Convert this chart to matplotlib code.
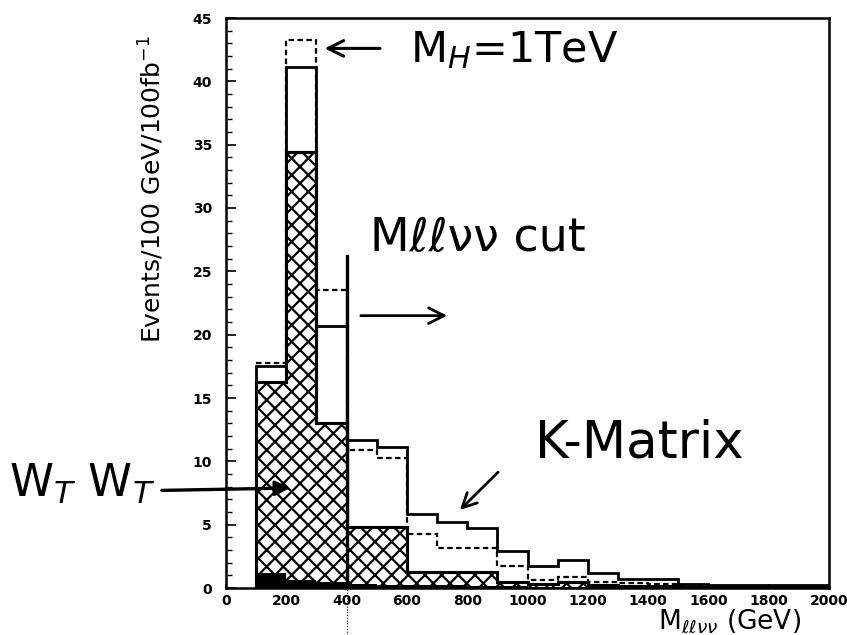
import matplotlib
matplotlib.use("Agg")
import matplotlib.pyplot as plt
import numpy as np

# ---- data ----
bin_edges = list(range(100, 2001, 100))
kmatrix = [17.5, 41.1, 20.7, 11.7, 11.1, 5.85, 5.2, 4.7, 2.95, 1.7,
           2.2, 1.2, 0.7, 0.7, 0.35, 0.25, 0.25, 0.2, 0.2]
higgs_1tev = [17.8, 43.3, 23.5, 10.9, 10.3, 4.26, 3.13, 3.13, 1.74, 0.65,
              0.9, 0.5, 0.4, 0.3, 0.2, 0.15, 0.15, 0.1, 0.1]
wtwt = [16.3, 34.4, 13.0, 4.85, 4.85, 1.3, 1.3, 1.3, 0.5, 0.3,
        0.5, 0.2, 0.15, 0.15, 0.1, 0.1, 0.1, 0.1, 0.1]
other_bkg = [1.2, 0.6, 0.5, 0.3, 0.25, 0.2, 0.2, 0.15, 0.15, 0.1,
             0.1, 0.1, 0.1, 0.1, 0.1, 0.1, 0.1, 0.1, 0.1]
cut_value = 400
cut_height = 26.2
x_ticks = list(range(0, 2001, 200))
y_ticks = list(range(0, 46, 5))

plt.rcParams['hatch.linewidth'] = 1.6

fig = plt.figure(figsize=(8.47, 6.35), dpi=100)
ax = fig.add_axes([226/847, (635-588)/635, 603/847, (588-18)/635])

# hatched WT WT
ax.stairs(wtwt, bin_edges, fill=True, facecolor='white', edgecolor='black',
          hatch='xx', linewidth=2.2, zorder=2)
ax.stairs(wtwt, bin_edges, color='black', linewidth=2.2, zorder=3)
# small filled black background
ax.stairs(other_bkg, bin_edges, fill=True, color='black', zorder=3)
# K-matrix solid
ax.stairs(kmatrix, bin_edges, color='black', linewidth=2.0, zorder=4, baseline=None)
ax.plot([bin_edges[0]] * 2, [0, kmatrix[0]], color='black', lw=2.0, zorder=4)
ax.plot([bin_edges[-1]] * 2, [0, kmatrix[-1]], color='black', lw=2.0, zorder=4)
# Higgs 1 TeV dashed
ax.stairs(higgs_1tev, bin_edges, color='black', linewidth=1.6,
          linestyle=(0, (2.5, 1.5)), zorder=5, baseline=None)

# cut line
ax.plot([cut_value, cut_value], [0, cut_height], color='black', lw=2.4, zorder=6)
ax.plot([cut_value, cut_value], [-3.7, 0], color='black', lw=0.8,
        linestyle=(0, (1, 1.5)), zorder=6, clip_on=False)

ax.set_xlim(0, 2000)
ax.set_ylim(0, 45)
ax.set_xticks(x_ticks)
ax.set_yticks(y_ticks)
ax.set_yticks(np.arange(0, 46, 1), minor=True)
ax.tick_params(axis='both', which='major', direction='in', length=7, width=1.2,
               labelsize=10)
ax.tick_params(axis='y', which='minor', direction='in', length=4, width=1.0)
ax.tick_params(axis='x', which='major', length=3)
for lab in ax.get_xticklabels() + ax.get_yticklabels():
    lab.set_fontweight('bold')
ax.tick_params(axis='y', pad=10)
ax.tick_params(axis='x', pad=4)
for s in ax.spines.values():
    s.set_linewidth(1.8)

ax.set_ylabel("Events/100 GeV/100fb$^{-1}$", fontsize=18)
ax.yaxis.set_label_coords(-0.10, 0.70)
fig.text(730/847, 1 - 621/635, r"M$_{\ell\ell\nu\nu}$ (GeV)", fontsize=19,
         ha='center', va='center')

# handwritten-style annotations
hw = dict(color='black', family='DejaVu Sans')
ax.text(610, 42.5, "M$_H$=1TeV", ha='left', va='center', fontsize=31, **hw)
ax.annotate("", xy=(318, 42.6), xytext=(520, 42.6),
            arrowprops=dict(arrowstyle='->', lw=2.2, color='black',
                            mutation_scale=28))
ax.text(478, 27.6, "Mℓℓνν cut", ha='left', va='center', fontsize=33, **hw)
ax.annotate("", xy=(743, 21.5), xytext=(438, 21.5),
            arrowprops=dict(arrowstyle='->', lw=2.0, color='black',
                            mutation_scale=28))
ax.text(1025, 11.4, "K-Matrix", ha='left', va='center', fontsize=37, **hw)
ax.annotate("", xy=(769, 6.0), xytext=(909, 9.3),
            arrowprops=dict(arrowstyle='->', lw=2.0, color='black',
                            mutation_scale=26))
ax.text(-720, 8.2, "W$_T$ W$_T$", ha='left', va='center', clip_on=False,
        fontsize=32, **hw)
ax.annotate("", xy=(222, 7.9), xytext=(-222, 7.7),
            arrowprops=dict(arrowstyle='-|>', lw=2.4, color='black',
                            mutation_scale=22), annotation_clip=False)

fig.savefig("out.png", dpi=100)
